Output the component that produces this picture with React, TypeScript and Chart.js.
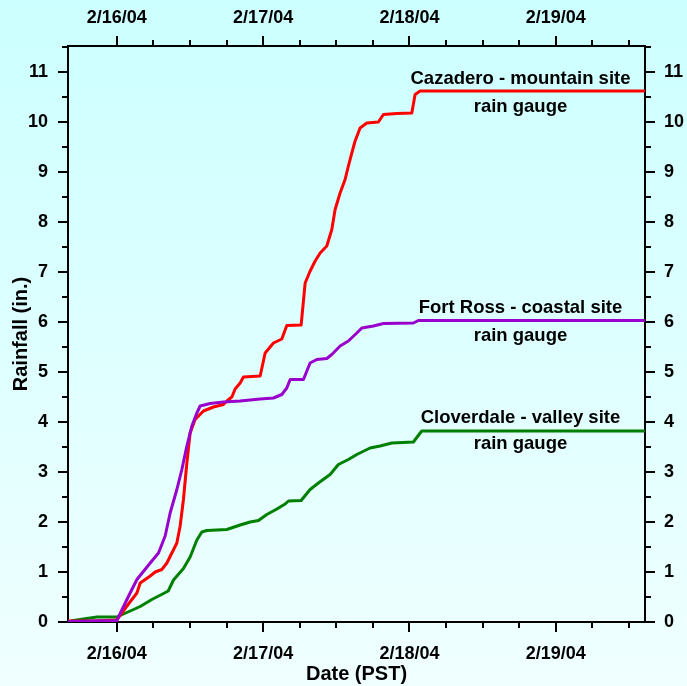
import React, { useEffect, useRef } from 'react';
import { Chart, registerables } from 'chart.js';

Chart.register(...registerables);

// Hours since 2/16/04 00:00 PST
const dateTickHours = [0, 24, 48, 72];
const dateTickLabels = ['2/16/04', '2/17/04', '2/18/04', '2/19/04'];
const rainTickValues = [0, 1, 2, 3, 4, 5, 6, 7, 8, 9, 10, 11];

const cazaderoHours = [-8, -4, 0, 1.66, 3.3, 3.84, 5.48, 6.3, 7.39, 8.21, 9.03, 9.85, 10.39, 10.93, 11.49, 12.03, 12.85, 14.21, 15.85, 17.49, 18.05, 18.87, 19.41, 20.23, 20.77, 23.51, 24.33, 25.69, 27.06, 27.88, 30.23, 30.89, 31.71, 32.53, 33.35, 34.44, 35.26, 35.8, 36.62, 37.44, 37.98, 38.54, 39.08, 39.9, 41.0, 42.9, 43.72, 45.92, 48.38, 48.92, 49.74, 86.62];
const cazaderoRain = [0.02, 0.02, 0.04, 0.32, 0.58, 0.78, 0.92, 1.0, 1.05, 1.18, 1.38, 1.58, 1.92, 2.45, 3.18, 3.78, 4.05, 4.22, 4.3, 4.35, 4.42, 4.5, 4.66, 4.78, 4.9, 4.92, 5.38, 5.58, 5.66, 5.93, 5.94, 6.78, 7.02, 7.22, 7.38, 7.52, 7.85, 8.25, 8.58, 8.85, 9.12, 9.38, 9.62, 9.88, 9.98, 10.0, 10.15, 10.17, 10.18, 10.55, 10.62, 10.62];

const fortRossHours = [-8, -4, 0, 1.66, 3.3, 5.48, 6.84, 7.93, 8.75, 9.85, 10.67, 11.49, 12.31, 13.13, 13.67, 15.31, 17.49, 20.23, 23.51, 25.69, 27.06, 27.88, 28.43, 30.61, 31.7, 32.8, 34.44, 35.26, 36.62, 37.98, 39.36, 40.18, 42.08, 43.72, 48.64, 49.46, 86.62];
const fortRossRain = [0.01, 0.02, 0.03, 0.45, 0.85, 1.18, 1.38, 1.72, 2.18, 2.65, 3.05, 3.52, 3.92, 4.18, 4.32, 4.37, 4.4, 4.42, 4.46, 4.48, 4.55, 4.68, 4.85, 4.85, 5.18, 5.25, 5.27, 5.35, 5.52, 5.62, 5.78, 5.88, 5.92, 5.97, 5.98, 6.03, 6.03];

const cloverdaleHours = [-8, -7.1, -5.46, -3.26, -0.26, 0, 3.84, 5.75, 7.66, 8.43, 9.3, 10.93, 12.03, 13.13, 13.95, 14.77, 18.05, 20.23, 21.87, 23.23, 24.6, 26.25, 27.61, 28.15, 30.23, 31.7, 33.06, 34.98, 36.34, 37.98, 39.36, 41.54, 43.18, 45.1, 48.64, 49.25, 50.01, 86.62];
const cloverdaleRain = [0.0, 0.03, 0.06, 0.1, 0.1, 0.1, 0.31, 0.45, 0.57, 0.62, 0.84, 1.07, 1.3, 1.64, 1.8, 1.83, 1.85, 1.94, 2.0, 2.03, 2.15, 2.26, 2.36, 2.42, 2.43, 2.65, 2.78, 2.95, 3.15, 3.25, 3.35, 3.48, 3.52, 3.58, 3.6, 3.7, 3.82, 3.82];

const siteNames = ['Cazadero - mountain site', 'Fort Ross - coastal site', 'Cloverdale - valley site'];
const gaugeText = 'rain gauge';
const xTitle = 'Date (PST)';
const yTitle = 'Rainfall (in.)';

const X_MIN = -8;
const X_MAX = 86.62;
const Y_MIN = 0;
const Y_MAX = 11.52;

const FONT = '"Liberation Sans", Arial, Helvetica, sans-serif';

const toPoints = (hs: number[], vs: number[]) => hs.map((h, i) => ({ x: h, y: vs[i] }));

const minorTicksPlugin = {
  id: 'minorTicks',
  afterDraw(chart: any) {
    const { ctx, chartArea: a, scales } = chart;
    const len = 6;
    ctx.save();
    ctx.strokeStyle = '#000';
    ctx.lineWidth = 2;
    ctx.beginPath();
    for (let h = 6; h <= 84; h += 6) {
      if (h % 24 === 0) continue;
      const x = Math.round(scales.x.getPixelForValue(h));
      ctx.moveTo(x, a.bottom);
      ctx.lineTo(x, a.bottom + len);
      ctx.moveTo(x, a.top);
      ctx.lineTo(x, a.top - len);
    }
    for (let v = 0.5; v < Y_MAX; v += 1) {
      const y = Math.round(scales.y.getPixelForValue(v));
      ctx.moveTo(a.left, y);
      ctx.lineTo(a.left - len, y);
      ctx.moveTo(a.right, y);
      ctx.lineTo(a.right + len, y);
    }
    ctx.stroke();
    ctx.restore();
  },
};

const labelPlacement = [
  { h: 66.2, v1: 10.77, v2: 10.21 },
  { h: 66.2, v1: 6.19, v2: 5.62 },
  { h: 66.2, v1: 3.99, v2: 3.47 },
];

const siteLabelPlugin = {
  id: 'siteLabels',
  afterDatasetsDraw(chart: any) {
    const { ctx, scales } = chart;
    ctx.save();
    ctx.fillStyle = '#000';
    ctx.font = `bold 18.5px ${FONT}`;
    ctx.textAlign = 'center';
    ctx.textBaseline = 'alphabetic';
    siteNames.forEach((name, i) => {
      const p = labelPlacement[i];
      const x = scales.x.getPixelForValue(p.h);
      ctx.fillText(name, x, scales.y.getPixelForValue(p.v1));
      ctx.fillText(gaugeText, x, scales.y.getPixelForValue(p.v2));
    });
    ctx.restore();
  },
};

export default function App() {
  const ref = useRef<HTMLCanvasElement | null>(null);

  useEffect(() => {
    if (!ref.current) return;
    const tickFont = { family: FONT, size: 18, weight: 'bold' as const };
    const grid = {
      drawOnChartArea: false,
      drawTicks: true,
      tickLength: 10,
      tickWidth: 2,
      tickColor: '#000',
      color: '#000',
      lineWidth: 2,
    };
    const border = { display: true, color: '#000', width: 2 };
    const xTicks = (v: number) => {
      const i = dateTickHours.indexOf(v);
      return i >= 0 ? dateTickLabels[i] : '';
    };
    const setXTicks = (s: any) => {
      s.ticks = dateTickHours.map((v) => ({ value: v }));
    };
    const setYTicks = (s: any) => {
      s.ticks = rainTickValues.map((v) => ({ value: v }));
    };
    const lineStyle = {
      borderWidth: 3,
      pointRadius: 0,
      tension: 0,
      borderJoinStyle: 'round',
      borderCapStyle: 'round',
    };

    const chart = new Chart(ref.current, {
      type: 'line',
      data: {
        datasets: [
          { label: 'Fort Ross', data: toPoints(fortRossHours, fortRossRain), borderColor: '#9900cc', ...lineStyle },
          { label: 'Cazadero', data: toPoints(cazaderoHours, cazaderoRain), borderColor: '#ff0000', ...lineStyle },
          { label: 'Cloverdale', data: toPoints(cloverdaleHours, cloverdaleRain), borderColor: '#008000', ...lineStyle },
        ],
      },
      options: {
        responsive: false,
        animation: false,
        devicePixelRatio: 1,
        layout: { padding: 0 },
        plugins: {
          legend: { display: false },
          tooltip: { enabled: false },
        },
        scales: {
          x: {
            type: 'linear',
            position: 'bottom',
            min: X_MIN,
            max: X_MAX,
            grid,
            border,
            afterBuildTicks: setXTicks,
            afterFit: (s: any) => {
              s.height = 64;
            },
            ticks: {
              color: '#000',
              font: tickFont,
              padding: 11,
              maxRotation: 0,
              autoSkip: false,
              callback: (v: any) => xTicks(Number(v)),
            },
            title: {
              display: true,
              text: xTitle,
              color: '#000',
              font: { family: FONT, size: 20, weight: 'bold' },
              padding: { top: 0, bottom: 0 },
            },
          },
          x2: {
            type: 'linear',
            axis: 'x',
            position: 'top',
            min: X_MIN,
            max: X_MAX,
            grid,
            border,
            afterBuildTicks: setXTicks,
            afterFit: (s: any) => {
              s.height = 46;
            },
            ticks: {
              color: '#000',
              font: tickFont,
              padding: 7,
              maxRotation: 0,
              autoSkip: false,
              callback: (v: any) => xTicks(Number(v)),
            },
          },
          y: {
            type: 'linear',
            position: 'left',
            min: Y_MIN,
            max: Y_MAX,
            grid,
            border,
            afterBuildTicks: setYTicks,
            afterFit: (s: any) => {
              s.width = 68;
            },
            ticks: {
              color: '#000',
              font: tickFont,
              padding: 10,
              autoSkip: false,
              callback: (v: any) => String(v),
            },
            title: {
              display: true,
              text: yTitle,
              color: '#000',
              font: { family: FONT, size: 20, weight: 'bold' },
              padding: { top: 9, bottom: 0 },
            },
          },
          y2: {
            type: 'linear',
            axis: 'y',
            position: 'right',
            min: Y_MIN,
            max: Y_MAX,
            grid,
            border,
            afterBuildTicks: setYTicks,
            afterFit: (s: any) => {
              s.width = 42;
            },
            ticks: {
              color: '#000',
              font: tickFont,
              padding: 9,
              autoSkip: false,
              callback: (v: any) => String(v),
            },
          },
        },
      },
      plugins: [minorTicksPlugin, siteLabelPlugin],
    } as any);

    return () => chart.destroy();
  }, []);

  return (
    <div
      style={{
        position: 'absolute',
        left: 0,
        top: 0,
        width: 687,
        height: 686,
        background: 'linear-gradient(to bottom, #ccffff 0%, #f0ffff 100%)',
      }}
    >
      <canvas ref={ref} width={687} height={686} style={{ display: 'block' }} />
    </div>
  );
}
